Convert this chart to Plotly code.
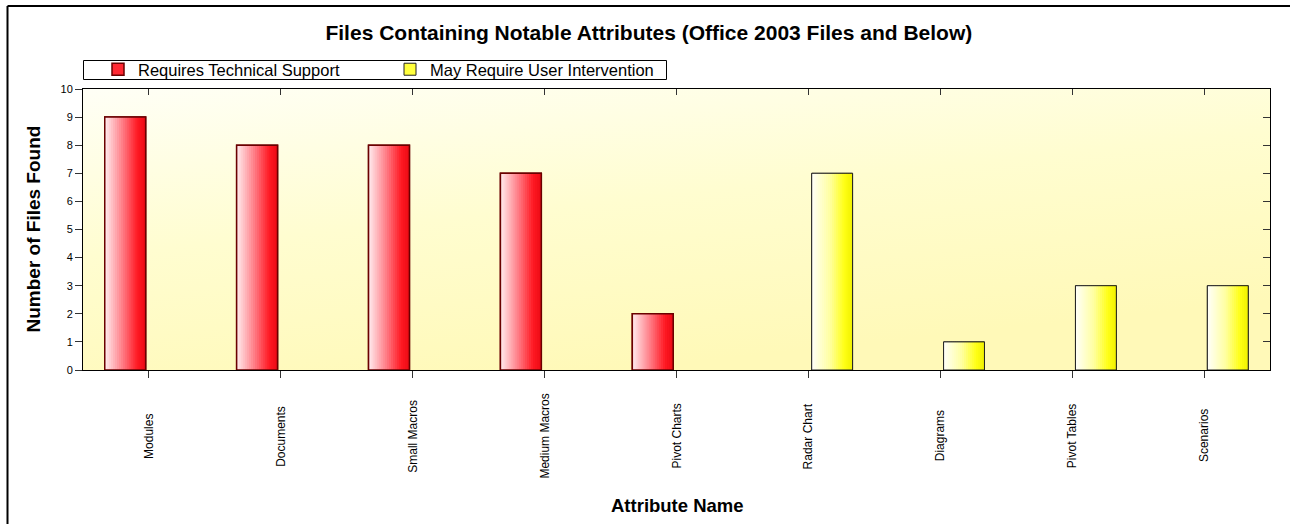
import base64
import plotly.graph_objects as go

# ---------------- data ----------------
categories = ["Modules", "Documents", "Small Macros", "Medium Macros", "Pivot Charts",
              "Radar Chart", "Diagrams", "Pivot Tables", "Scenarios"]
tech_support = [9, 8, 8, 7, 2, 0, 0, 0, 0]
user_intervention = [0, 0, 0, 0, 0, 7, 1, 3, 3]
series_names = ["Requires Technical Support", "May Require User Intervention"]
y_ticks = list(range(0, 11))

title_text = "Files Containing Notable Attributes (Office 2003 Files and Below)"
x_title = "Attribute Name"
y_title = "Number of Files Found"

# ---------------- style ----------------
W, H = 1290, 524
L, R, T, B = 83, 20, 89, 154
PW, PH = W - L - R, H - T - B
FONT = "Liberation Sans, Arial, sans-serif"

red_stops = [(0.0, (255, 238, 240)), (0.45, (255, 120, 130)), (0.8, (255, 25, 35)), (1.0, (235, 10, 20))]
yel_stops = [(0.0, (255, 255, 250)), (0.45, (255, 255, 160)), (0.8, (255, 255, 20)), (1.0, (240, 240, 0))]


def interp(stops, t):
    for (t0, c0), (t1, c1) in zip(stops[:-1], stops[1:]):
        if t <= t1:
            f = (t - t0) / (t1 - t0) if t1 > t0 else 0
            return "rgb(%d,%d,%d)" % tuple(round(a + (b - a) * f) for a, b in zip(c0, c1))
    return "rgb(%d,%d,%d)" % stops[-1][1]


def px_x(px):
    return (px - L) / PW


def px_y(py):
    return (H - B - py) / PH


fig = go.Figure()

N = 20
bar_specs = [
    (tech_support, series_names[0], -0.335, 0.31, red_stops, "rgb(255,40,50)", "#6b0000", 1.5),
    (user_intervention, series_names[1], 0.025, 0.31, yel_stops, "rgb(255,255,60)", "#222222", 1.0),
]
for vals, name, off, wid, stops, solid, line_c, line_w in bar_specs:
    yv = [v if v else None for v in vals]
    fig.add_trace(go.Bar(x=categories, y=yv, name=name, offset=off, width=wid,
                         marker=dict(color=solid, line=dict(color=line_c, width=line_w)),
                         hoverinfo="skip"))
    sw = wid / N
    for i in range(N):
        w_i = sw * 1.8 if i < N - 1 else sw
        fig.add_trace(go.Bar(x=categories, y=yv, offset=off + i * sw, width=w_i,
                             marker=dict(color=interp(stops, (i + 0.5) / N), line=dict(width=0)),
                             showlegend=False, hoverinfo="skip"))
    fig.add_trace(go.Bar(x=categories, y=yv, offset=off, width=wid,
                         marker=dict(color="rgba(0,0,0,0)", line=dict(color=line_c, width=line_w)),
                         showlegend=False, hoverinfo="skip"))

svg = ('<svg xmlns="http://www.w3.org/2000/svg" width="100" height="100" preserveAspectRatio="none">'
       '<defs><linearGradient id="g" x1="0" y1="0" x2="0.45" y2="1">'
       '<stop offset="0" stop-color="#fffff6"/><stop offset="0.5" stop-color="#fffdd0"/>'
       '<stop offset="1" stop-color="#fff9b8"/></linearGradient></defs>'
       '<rect width="100" height="100" fill="url(#g)"/></svg>')
src = "data:image/svg+xml;base64," + base64.b64encode(svg.encode()).decode()

annotations = [
    dict(text=y_title, xref="paper", yref="paper", x=px_x(33), y=0.5, textangle=-90,
         showarrow=False, xanchor="center", yanchor="middle",
         font=dict(family=FONT, size=19, color="black", weight="bold")),
    dict(text=x_title, xref="paper", yref="paper", x=px_x(678), y=px_y(505),
         showarrow=False, xanchor="center", yanchor="middle",
         font=dict(family=FONT, size=18.5, color="black", weight="bold")),
]
for c in categories:
    annotations.append(dict(text=c, xref="x", yref="paper", x=c, y=px_y(436), textangle=-90,
                            showarrow=False, xanchor="center", yanchor="middle",
                            font=dict(family=FONT, size=12, color="black")))

fig.update_layout(
    width=W, height=H,
    margin=dict(l=L, r=R, t=T, b=B, pad=0),
    paper_bgcolor="white", plot_bgcolor="#fffde0",
    barmode="overlay",
    font=dict(family=FONT, color="black"),
    title=dict(text="<b>" + title_text + "</b>", x=0.503, xanchor="center", y=1 - 33 / H, yanchor="middle",
               font=dict(family=FONT, size=21, color="black")),
    legend=dict(orientation="h", x=px_x(98), xanchor="left", y=px_y(69.5), yanchor="middle",
                bgcolor="rgba(0,0,0,0)", borderwidth=0,
                font=dict(family=FONT, size=16.5, color="black"),
                entrywidth=247, itemclick=False, itemdoubleclick=False),
    xaxis=dict(type="category", categoryorder="array", categoryarray=categories,
               range=[-0.5, len(categories) - 0.5], showline=True, linecolor="black", linewidth=1,
               mirror=True, ticks="outside", ticklen=7, tickcolor="#333", showticklabels=False,
               showgrid=False, zeroline=False, fixedrange=True),
    yaxis=dict(range=[0, 10], tickvals=y_ticks, showline=True, linecolor="black", linewidth=1,
               mirror=True, ticks="outside", ticklen=7, tickcolor="#333", showgrid=False,
               zeroline=False, tickfont=dict(family=FONT, size=11, color="black"), fixedrange=True),
    xaxis2=dict(overlaying="x", side="top", anchor="y", range=[-0.5, len(categories) - 0.5],
                tickvals=list(range(len(categories))), ticks="inside", ticklen=6, tickcolor="#333",
                showticklabels=False, showline=False, showgrid=False, zeroline=False),
    yaxis2=dict(overlaying="y", side="right", anchor="x", range=[0, 10], tickvals=y_ticks,
                ticks="inside", ticklen=7, tickcolor="#333", showticklabels=False,
                showline=False, showgrid=False, zeroline=False),
    annotations=annotations,
    images=[dict(source=src, xref="paper", yref="paper", x=0, y=1, sizex=1, sizey=1,
                 xanchor="left", yanchor="top", sizing="stretch", layer="below")],
    shapes=[
        dict(type="line", xref="paper", yref="paper", x0=px_x(7.5), x1=px_x(W + 5),
             y0=px_y(6), y1=px_y(6), line=dict(color="black", width=2)),
        dict(type="line", xref="paper", yref="paper", x0=px_x(7.5), x1=px_x(7.5),
             y0=px_y(6), y1=px_y(H + 5), line=dict(color="black", width=2)),
        dict(type="rect", xref="paper", yref="paper", x0=px_x(83.5), x1=px_x(666.5),
             y0=px_y(60.5), y1=px_y(79.5), line=dict(color="black", width=1), fillcolor="white",
             layer="below"),
    ],
)
fig.add_trace(go.Scatter(x=[], y=[], xaxis="x2", yaxis="y2", showlegend=False, hoverinfo="skip"))

fig.write_html("out.html", config={"displayModeBar": False},
               post_script="document.body.style.margin='0';document.body.style.overflow='hidden';")
